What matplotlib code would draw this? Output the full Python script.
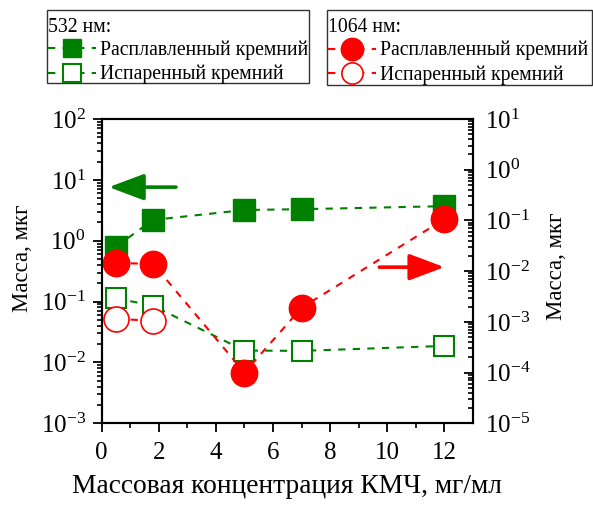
import matplotlib
matplotlib.use('Agg')
import matplotlib.pyplot as plt
from matplotlib.patches import Rectangle
from matplotlib.ticker import LogLocator, FixedLocator, NullFormatter, FuncFormatter
import numpy as np

plt.rcParams['font.family'] = ['Liberation Serif', 'DejaVu Serif']
plt.rcParams['mathtext.fontset'] = 'custom'
plt.rcParams['mathtext.rm'] = 'Liberation Serif'
plt.rcParams['mathtext.it'] = 'Liberation Serif:italic'

# данные
x_532 = [0.5, 1.8, 5.0, 7.0, 12.0]
m_melt_532 = [0.8, 2.2, 3.2, 3.3, 3.7]
m_evap_532 = [0.114, 0.085, 0.0157, 0.0155, 0.0187]

x_1064_melt = [0.5, 1.8, 5.0, 7.0, 12.0]
m_melt_1064 = [0.0144, 0.014, 0.0001, 0.0019, 0.106]
x_1064_evap = [0.5, 1.8]
m_evap_1064 = [0.00115, 0.00105]

GREEN = '#008000'
RED = '#FF0000'
DASH = (0, (3.5, 3.5))
W, H = 593, 508


def pow10(v, pos):
    return r'$\mathregular{10^{%d}}$' % int(round(np.log10(v)))


fig = plt.figure(figsize=(W / 100, H / 100), dpi=100)
ax = fig.add_axes([0.1715, 0.1667, 0.626, 0.599])
ax2 = ax.twinx()

# 532 нм (левая ось)
l1, = ax.plot(x_532, m_melt_532, ls=DASH, lw=1.5, color=GREEN, marker='s',
              ms=16, mfc=GREEN, mec=GREEN, mew=1, label='Расплавленный кремний')
l2, = ax.plot(x_532, m_evap_532, ls=DASH, lw=1.5, color=GREEN, marker='s',
              ms=15, mfc='white', mec=GREEN, mew=1.5, label='Испаренный кремний')

# 1064 нм (правая ось)
l3, = ax2.plot(x_1064_melt, m_melt_1064, ls=DASH, lw=1.5, color=RED, marker='o',
               ms=19, mfc=RED, mec=RED, mew=1, label='Расплавленный кремний')
l4, = ax2.plot(x_1064_evap, m_evap_1064, ls=DASH, lw=1.5, color=RED, marker='o',
               ms=18, mfc='white', mec=RED, mew=1.2, label='Испаренный кремний')

# стрелки
arrow_style = '-|>,head_length=1.2,head_width=0.45'
ax.annotate('', xy=(0.25, 7.6), xytext=(2.6, 7.6),
            arrowprops=dict(arrowstyle=arrow_style, mutation_scale=18, lw=2.6,
                            color=GREEN, shrinkA=0, shrinkB=0))
ax2.annotate('', xy=(12.0, 0.012), xytext=(9.72, 0.012),
             arrowprops=dict(arrowstyle=arrow_style, mutation_scale=18, lw=2.6,
                             color=RED, shrinkA=0, shrinkB=0))

ax.set_xlim(0, 13)
ax.set_yscale('log')
ax.set_ylim(1e-3, 1e2)
ax2.set_yscale('log')
ax2.set_ylim(1e-5, 1e1)

ax.xaxis.set_major_locator(FixedLocator([0, 2, 4, 6, 8, 10, 12]))
ax.xaxis.set_minor_locator(FixedLocator([1, 3, 5, 7, 9, 11]))
for a in (ax, ax2):
    a.yaxis.set_major_locator(LogLocator(base=10, numticks=20))
    a.yaxis.set_minor_locator(LogLocator(base=10, subs=np.arange(2, 10), numticks=20))
    a.yaxis.set_minor_formatter(NullFormatter())
    a.yaxis.set_major_formatter(FuncFormatter(pow10))

for s in ax.spines.values():
    s.set_linewidth(1.5)
for s in ax2.spines.values():
    s.set_linewidth(1.5)

ax.tick_params(axis='both', which='major', direction='out', length=6.5, width=1.3,
               labelsize=18, top=False, right=False)
ax.tick_params(axis='both', which='minor', direction='out', length=3.5, width=1.2,
               top=False, right=False)
ax.tick_params(axis='y', which='major', pad=5)
ax.tick_params(axis='x', which='major', pad=7)
ax2.tick_params(axis='y', which='major', direction='in', length=6.5, width=1.3,
                labelsize=18, pad=8.5)
ax2.tick_params(axis='y', which='minor', direction='in', length=3.5, width=1.2)

ax.set_xlabel('Массовая концентрация КМЧ, мг/мл', fontsize=19.8)
ax.set_ylabel('Масса, мкг', fontsize=16.5)
ax2.set_ylabel('Масса, мкг', fontsize=16.5)
# положение подписей осей (доли осей)
ax.xaxis.set_label_coords(0.5, -0.165)
ax.yaxis.set_label_coords(-0.186, 0.542)
ax2.yaxis.set_label_coords(1.197, 0.517)

# легенды: рамки отдельно, содержимое без рамки
leg_kw = dict(loc='upper left', fontsize=14.2, title_fontsize=14.2, alignment='left',
              frameon=False, borderaxespad=0, borderpad=0, labelspacing=0.25,
              handlelength=2.45, handletextpad=0.22, markerscale=0.85)
leg1 = fig.legend(handles=[l1, l2], title='532 нм:',
                  bbox_to_anchor=(47.5 / W, 1 - 18 / H), **leg_kw)
leg2 = fig.legend(handles=[l3, l4], title='1064 нм:',
                  bbox_to_anchor=(327.5 / W, 1 - 18.5 / H), **leg_kw)
for lg in (leg1, leg2):
    lg._legend_box.sep = 2.5

boxes = [(46.7, 10, 308.7, 82.7), (326.7, 10, 592.3, 85)]
for x0, y0, x1, y1 in boxes:
    fig.add_artist(Rectangle((x0 / W, 1 - y1 / H), (x1 - x0) / W, (y1 - y0) / H,
                             transform=fig.transFigure, fill=False,
                             edgecolor='#333333', linewidth=1.0))

fig.savefig('out.png', dpi=100, facecolor='white')
